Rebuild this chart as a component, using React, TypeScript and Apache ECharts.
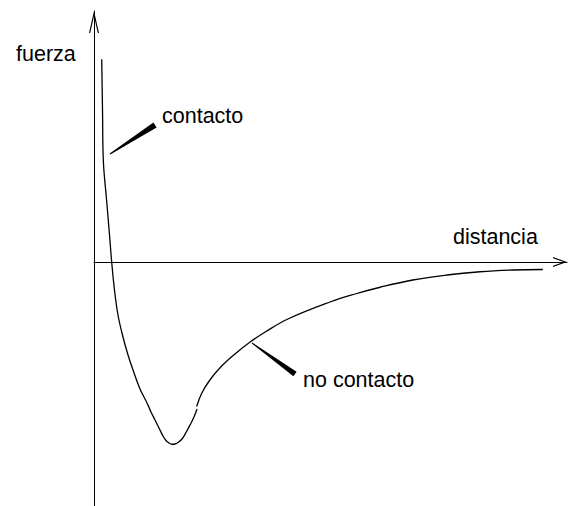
import React, { useEffect, useRef } from "react";
import * as echarts from "echarts";

// Contact branch (repulsive part and well) — distance / force in arbitrary units
const distanceContact = [0.163, 0.18, 0.197, 0.266, 0.328, 0.374, 0.433, 0.507, 0.613, 0.719, 0.825, 0.973, 1.121, 1.205, 1.29, 1.374, 1.459, 1.522, 1.586, 1.649, 1.713, 1.776, 1.86, 1.945, 2.03, 2.114, 2.178];
const forceContact = [8.11, 6.08, 4.08, 2.48, 1.08, 0, -1.12, -2.12, -3.0, -3.72, -4.32, -5.08, -5.64, -6.0, -6.32, -6.64, -6.96, -7.14, -7.24, -7.29, -7.28, -7.22, -7.08, -6.82, -6.52, -6.2, -5.88];

// Non-contact branch (attractive tail)
const distanceNonContact = [2.17, 2.28, 2.45, 2.68, 2.98, 3.3, 3.62, 4.1, 4.99, 5.52, 6.05, 6.74, 7.46, 8.16, 8.86, 9.49];
const forceNonContact = [-5.78, -5.24, -4.72, -4.2, -3.68, -3.2, -2.8, -2.28, -1.6, -1.28, -1.01, -0.72, -0.52, -0.39, -0.32, -0.3];

const axisNames = { x: "distancia", y: "fuerza" };
const annotations = ["contacto", "no contacto"];

const FONT = "'Liberation Sans', Arial, sans-serif";
const FS = 21.5;

export default function App() {
  const ref = useRef<HTMLDivElement>(null);

  useEffect(() => {
    if (!ref.current) return;
    const chart = echarts.init(ref.current, null, { renderer: "svg" });
    const pairs = (xs: number[], ys: number[]) => xs.map((x, i) => [x, ys[i]]);
    const lineSeries = (data: number[][]) => ({
      type: "line",
      data,
      showSymbol: false,
      smooth: 0.4,
      lineStyle: { color: "#000", width: 1.3 },
      silent: true,
    });
    const textStyle = { font: `${FS}px ${FONT}`, fontSize: FS, fontFamily: FONT, fill: "#000", textVerticalAlign: "top", verticalAlign: "top" };
    chart.setOption({
      animation: false,
      backgroundColor: "#fff",
      grid: { left: 94, right: 1, top: 11, bottom: 0, containLabel: false },
      xAxis: {
        type: "value",
        min: 0,
        max: 10,
        axisLine: {
          show: true,
          onZero: true,
          symbol: ["none", "path://M5,0L10,14L8.8,14L5,3.4L1.2,14L0,14Z"],
          symbolSize: [10, 14],
          symbolOffset: [0, -7],
          lineStyle: { color: "#000", width: 1 },
        },
        axisTick: { show: false },
        axisLabel: { show: false },
        splitLine: { show: false },
      },
      yAxis: {
        type: "value",
        min: -9.76,
        max: 10.04,
        axisLine: {
          show: true,
          onZero: true,
          symbol: ["none", "path://M5,0L10,22L8.8,22L5,5.3L1.2,22L0,22Z"],
          symbolSize: [10, 22],
          symbolOffset: [0, -11],
          lineStyle: { color: "#000", width: 1 },
        },
        axisTick: { show: false },
        axisLabel: { show: false },
        splitLine: { show: false },
      },
      series: [lineSeries(pairs(distanceContact, forceContact)), lineSeries(pairs(distanceNonContact, forceNonContact))],
      graphic: [
        { type: "text", left: 16, top: 54.5 - FS / 2 - 1, style: { ...textStyle, text: axisNames.y } },
        { type: "text", left: 453, top: 237.5 - FS / 2 - 1, style: { ...textStyle, text: axisNames.x } },
        { type: "text", left: 162, top: 116.5 - FS / 2 - 1, style: { ...textStyle, text: annotations[0] } },
        { type: "text", left: 303, top: 380.5 - FS / 2 - 1, style: { ...textStyle, text: annotations[1] } },
        {
          type: "polygon",
          shape: { points: [[110.3, 154.4], [109.7, 153.6], [153.4, 122.5], [156.6, 127.5]] },
          style: { fill: "#000" },
        },
        {
          type: "polygon",
          shape: { points: [[251.7, 343.4], [252.3, 342.6], [296.6, 371.7], [293.4, 376.3]] },
          style: { fill: "#000" },
        },
      ],
    });
    return () => chart.dispose();
  }, []);

  return <div ref={ref} style={{ position: "fixed", left: 0, top: 0, width: 568, height: 506 }} />;
}
